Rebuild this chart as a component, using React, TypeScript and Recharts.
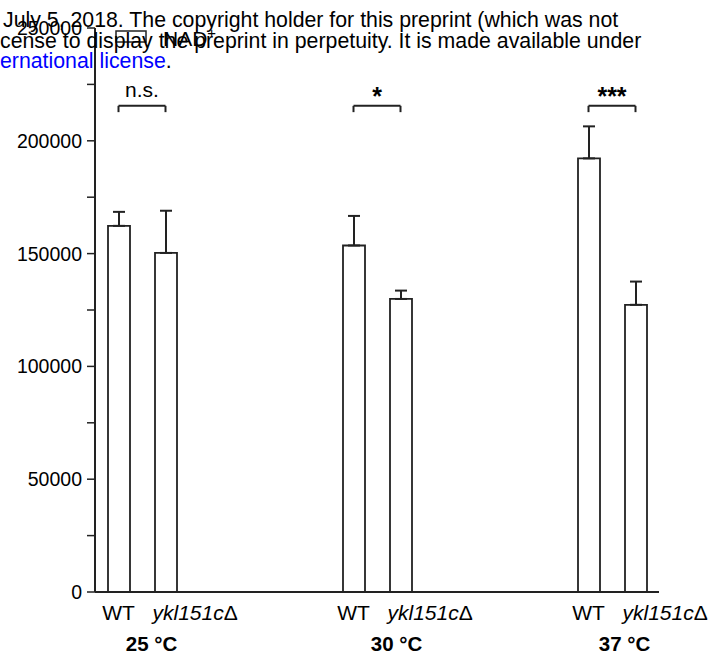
import React from 'react';
import { BarChart, Bar, XAxis, YAxis, ErrorBar, ReferenceLine, Legend } from 'recharts';

const temperatures = ['25 °C', '30 °C', '37 °C'];
const strains = ['WT', 'ykl151cΔ'];
// NAD+ level, WT / ykl151cΔ for each temperature
const nadMean = [162300, 150300, 153600, 129900, 192200, 127300];
const nadErr = [6200, 18700, 13100, 3700, 14200, 10300];
const significance = ['n.s.', '*', '***'];
const yTicks = [0, 25000, 50000, 75000, 100000, 125000, 150000, 175000, 200000, 225000, 250000];

const FONT = "'Liberation Sans', Arial, Helvetica, sans-serif";
const INK = '#222';
const BRACKET_Y = 215500;
const BRACKET_DROP = 2800;
const groupLabelDx = [33, 43, 36];

type Row = { slot: string; temp?: string; strain?: string; group?: number; nad?: number; err?: number[] };

const rows: Row[] = [];
temperatures.forEach((temp, t) => {
  strains.forEach((strain, s) => {
    const i = t * 2 + s;
    rows.push({ slot: `${t}-${s}`, temp, strain, group: t, nad: nadMean[i], err: [0, nadErr[i]] });
  });
  if (t < temperatures.length - 1) {
    for (let g = 0; g < 3; g++) rows.push({ slot: `gap-${t}-${g}` });
  }
});

function StrainTick(props: any) {
  const { x, y, payload } = props;
  const row = rows.find((r) => r.slot === payload.value);
  if (!row || !row.strain) return null;
  const isWT = row.strain === 'WT';
  const base = row.strain.replace('Δ', '');
  return (
    <g>
      {isWT ? (
        <text x={x} y={y + 28} textAnchor="middle" fontSize={21} fontFamily={FONT} fill="#000">
          {row.strain}
        </text>
      ) : (
        <text x={x - 13} y={y + 28} textAnchor="start" fontSize={21} fontFamily={FONT} fill="#000">
          <tspan fontStyle="italic">{base}</tspan>
          <tspan>Δ</tspan>
        </text>
      )}
      {isWT && (
        <text
          x={x + groupLabelDx[row.group as number]}
          y={y + 59}
          textAnchor="middle"
          fontSize={20.5}
          fontWeight="bold"
          fontFamily={FONT}
          fill="#000"
        >
          {row.temp}
        </text>
      )}
    </g>
  );
}

function NadLegend() {
  return (
    <svg width={110} height={30}>
      <rect x={4} y={7} width={30} height={11} fill="#fff" stroke={INK} strokeWidth={1.5} />
      <text x={51} y={22} fontSize={21} fontFamily={FONT} fill="#000">
        NAD
        <tspan dy={-8} fontSize={15}>+</tspan>
      </text>
    </svg>
  );
}

export default function App() {
  return (
    <div style={{ position: 'absolute', left: 0, top: 0, width: 726, height: 662, background: '#fff' }}>
      <BarChart
        width={726}
        height={662}
        data={rows}
        margin={{ top: 28, right: 67, bottom: 0, left: 0 }}
      >
        <XAxis
          dataKey="slot"
          height={70}
          interval={0}
          tickLine={false}
          tickSize={0}
          tickMargin={0}
          tick={<StrainTick />}
          axisLine={{ stroke: INK, strokeWidth: 2 }}
          padding={{ left: 0, right: 0 }}
        />
        <YAxis
          width={95}
          domain={[0, 250000]}
          ticks={yTicks}
          interval={0}
          tickSize={8}
          tickMargin={5}
          tickFormatter={(v: number) => (v % 50000 === 0 ? String(v) : '')}
          tick={{ fontSize: 19.5, fill: '#000', fontFamily: FONT }}
          tickLine={{ stroke: INK, strokeWidth: 1.5 }}
          axisLine={{ stroke: INK, strokeWidth: 2 }}
        />
        <Legend
          layout="vertical"
          align="center"
          verticalAlign="middle"
          content={<NadLegend />}
          wrapperStyle={{ top: 24, left: 112, width: 110, height: 30 }}
        />
        <Bar dataKey="nad" barSize={22} fill="#fff" stroke={INK} strokeWidth={1.8} isAnimationActive={false}>
          <ErrorBar dataKey="err" width={6} stroke={INK} strokeWidth={2} direction="y" />
        </Bar>
        {significance.map((label, t) => {
          const a = `${t}-0`;
          const b = `${t}-1`;
          const big = label !== 'n.s.';
          return (
            <React.Fragment key={label}>
              <ReferenceLine
                segment={[{ x: a, y: BRACKET_Y }, { x: b, y: BRACKET_Y }]}
                stroke={INK}
                strokeWidth={2}
                label={{
                  value: label,
                  position: 'top',
                  offset: big ? 1 : 9,
                  fontSize: big ? 25 : 21,
                  fontWeight: big ? 'bold' : 'normal',
                  fontFamily: FONT,
                  fill: '#000',
                }}
              />
              <ReferenceLine segment={[{ x: a, y: BRACKET_Y }, { x: a, y: BRACKET_Y - BRACKET_DROP }]} stroke={INK} strokeWidth={2} />
              <ReferenceLine segment={[{ x: b, y: BRACKET_Y }, { x: b, y: BRACKET_Y - BRACKET_DROP }]} stroke={INK} strokeWidth={2} />
            </React.Fragment>
          );
        })}
      </BarChart>
      <svg
        width={726}
        height={80}
        style={{ position: 'absolute', left: 0, top: 0, pointerEvents: 'none' }}
      >
        <text x={3} y={27} fontSize={21.3} fontFamily={FONT} fill="#000">
          July 5, 2018. The copyright holder for this preprint (which was not
        </text>
        <text x={0} y={48} fontSize={21.3} fontFamily={FONT} fill="#000">
          cense to display the preprint in perpetuity. It is made available under
        </text>
        <text x={0} y={68} fontSize={21.3} fontFamily={FONT} fill="#000">
          <tspan fill="#0000ff">ernational license</tspan>.
        </text>
      </svg>
    </div>
  );
}
